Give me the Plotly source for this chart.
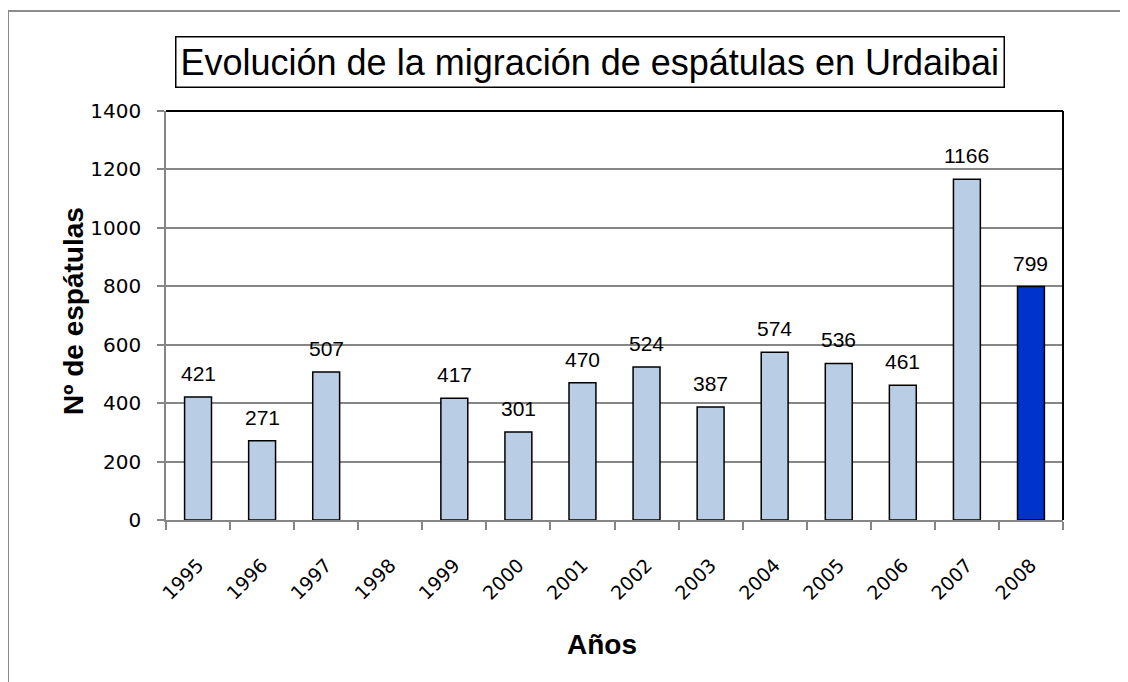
import plotly.graph_objects as go

years = ["1995", "1996", "1997", "1998", "1999", "2000", "2001", "2002",
         "2003", "2004", "2005", "2006", "2007", "2008"]
counts = [421, 271, 507, None, 417, 301, 470, 524, 387, 574, 536, 461, 1166, 799]
bar_colors = ["#B9CDE5"] * 13 + ["#0033CC"]

# page has an 8px body margin: reference pixel coordinates are shifted by it
OFF = 8
W, H = 1128, 682
L, R, T, B = 166 - OFF, 1063 - OFF, 111 - OFF, 520 - OFF
pw, ph = R - L, B - T

def px(x):
    return (x - OFF - L) / pw

def py(y):
    return (B - (y - OFF)) / ph

fig = go.Figure()
fig.add_trace(go.Bar(
    x=years, y=counts,
    marker=dict(color=bar_colors, line=dict(color="#000000", width=1.5)),
    width=0.42,
))

ann = [
    dict(text="Evolución de la migración de espátulas en Urdaibai",
         xref="paper", yref="paper", x=px(590), y=py(62),
         xanchor="center", yanchor="middle", showarrow=False,
         font=dict(family="Liberation Sans Narrow, Liberation Sans, Arial", size=36, color="#000000"),
         bordercolor="#000000", borderwidth=1.5, borderpad=4, bgcolor="white"),
    dict(text="<b>Nº de espátulas</b>",
         xref="paper", yref="paper", x=px(73), y=py(311),
         xanchor="center", yanchor="middle", showarrow=False, textangle=-90,
         font=dict(family="Liberation Sans, Arial", size=28, color="#000000")),
    dict(text="<b>Años</b>",
         xref="paper", yref="paper", x=px(602), y=py(644),
         xanchor="center", yanchor="middle", showarrow=False,
         font=dict(family="Liberation Sans, Arial", size=28, color="#000000")),
]
# value labels: category axis positions are the category indices
for i, v in enumerate(counts):
    if v is None:
        continue
    ann.append(dict(text=str(v), x=i, y=v, xref="x", yref="y",
                    xanchor="center", yanchor="bottom", yshift=10, showarrow=False,
                    font=dict(family="Liberation Sans, Arial", size=21, color="#000000")))

fig.update_layout(
    width=W, height=H,
    margin=dict(l=L, r=W - R, t=T, b=H - B),
    paper_bgcolor="white", plot_bgcolor="white",
    showlegend=False,
    font=dict(family="DejaVu Sans", color="#000000"),
    xaxis=dict(
        type="category", categoryorder="array", categoryarray=years,
        tickangle=-45,
        tickfont=dict(family="DejaVu Sans", size=19), tickson="boundaries",
        ticks="outside", ticklen=8, tickcolor="#868686", tickwidth=1.5,
        ticklabelstandoff=25,
        showline=True, linecolor="#868686", linewidth=1.5,
        showgrid=False,
    ),
    yaxis=dict(
        range=[0, 1400], dtick=200,
        tickfont=dict(family="DejaVu Sans", size=20),
        ticks="outside", ticklen=7, tickcolor="#868686", tickwidth=1.5,
        ticklabelstandoff=12,
        showline=True, linecolor="#868686", linewidth=1.5,
        showgrid=True, gridcolor="#868686", gridwidth=1.5,
        zeroline=False,
    ),
    shapes=[
        dict(type="line", xref="paper", yref="paper", x0=0, x1=1, y0=1, y1=1,
             line=dict(color="#000000", width=2)),
        dict(type="line", xref="paper", yref="paper", x0=1, x1=1, y0=0, y1=1,
             line=dict(color="#000000", width=2)),
        dict(type="rect", xref="paper", yref="paper",
             x0=px(8), x1=px(1150), y0=py(11), y1=py(720),
             line=dict(color="#8C8C8C", width=2), layer="below"),
    ],
    annotations=ann,
)

fig.write_html("out.html")
